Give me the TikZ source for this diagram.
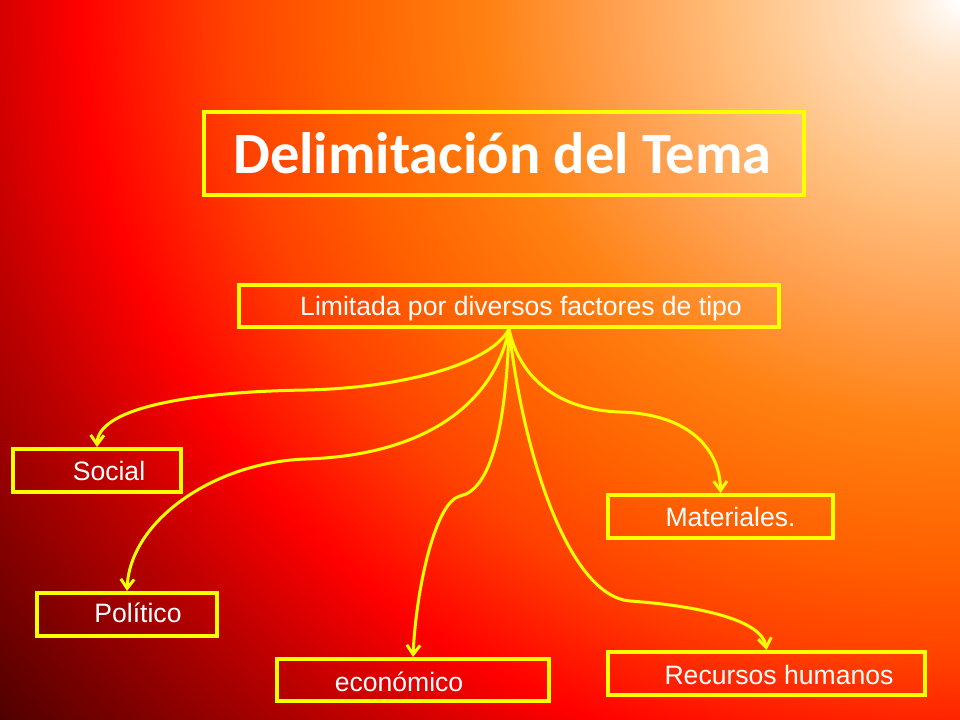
\documentclass[tikz,border=0pt]{standalone}
\usepackage{fontspec}
\setmainfont{Liberation Sans}
\newfontfamily\titlefont{Carlito}
\usetikzlibrary{arrows.meta}
\definecolor{amarillo}{HTML}{FFFF00}
\definecolor{fondoA}{HTML}{FFFFFF}
\definecolor{fondoB}{HTML}{FFE4C8}
\definecolor{fondoC}{HTML}{FFC080}
\definecolor{fondoD}{HTML}{FFA050}
\definecolor{fondoE}{HTML}{FF8010}
\definecolor{fondoF}{HTML}{FF6000}
\definecolor{fondoG}{HTML}{FF4000}
\definecolor{fondoH}{HTML}{FF0000}
\definecolor{fondoI}{HTML}{C00000}
\definecolor{fondoJ}{HTML}{900000}
\definecolor{fondoK}{HTML}{500000}
\pgfdeclareradialshading{fondo}{\pgfpointorigin}{color(0bp)=(fondoA); color(1.41bp)=(fondoB); color(4.38bp)=(fondoC); color(6.72bp)=(fondoD); color(9.38bp)=(fondoE); color(12.19bp)=(fondoF); color(14.38bp)=(fondoG); color(17.19bp)=(fondoH); color(19.53bp)=(fondoI); color(21.56bp)=(fondoJ); color(24.38bp)=(fondoK); color(50bp)=(fondoK)}
\begin{document}
\begin{tikzpicture}[x=0.75bp,y=-0.75bp,
	caja/.style={draw=amarillo,line width=3bp,inner sep=0pt},
	rotulo/.style={text=white,inner sep=0pt,font=\fontsize{20}{24}\selectfont,text height=14.3pt,text depth=0pt},
	enlace/.style={amarillo,line width=2.25bp,-{Straight Barb[length=7bp,width=10bp]}}]
	\useasboundingbox (0,0) rectangle (960,720);
	\begin{scope}
		\clip (0,0) rectangle (960,720);
		\shade[shading=fondo] (-320,-1152) rectangle (2240,1152);
	\end{scope}
	\node[caja,minimum width=450bp,minimum height=62.25bp] (tema) at (504,153.5) {};
	\node[caja,minimum width=405bp,minimum height=31.5bp] (lim) at (509,306) {};
	\node[caja,minimum width=126bp,minimum height=32.25bp] (soc) at (97,470.5) {};
	\node[caja,minimum width=135bp,minimum height=32.25bp] (pol) at (127,614.5) {};
	\node[caja,minimum width=204bp,minimum height=31.5bp] (eco) at (413,680) {};
	\node[caja,minimum width=168.75bp,minimum height=32.25bp] (mat) at (720.5,516.5) {};
	\node[caja,minimum width=237.75bp,minimum height=32.25bp] (rec) at (766.5,673.5) {};
	\node[text=white,inner sep=0pt,font=\titlefont\bfseries\fontsize{44}{52}\selectfont,text height=28.3pt,text depth=0pt] (tematxt) at (502.5,155) {Delimitación del Tema};
	\node[rotulo] (limtxt) at (521,306) {Limitada por diversos factores de tipo};
	\node[rotulo] (soctxt) at (109,471) {Social};
	\node[rotulo] (poltxt) at (138,613) {Político};
	\node[rotulo] (ecotxt) at (399,681.5) {económico};
	\node[rotulo] (mattxt) at (730.5,516.5) {Materiales.};
	\node[rotulo] (rectxt) at (779,674.5) {Recursos humanos};
	\draw[enlace] (lim.south) .. controls (490,365) and (400,388) .. (306,390) .. controls (180,392) and (98,410) .. (soc.north);
	\draw[enlace] (lim.south) .. controls (495,400) and (430,455) .. (306,459) .. controls (215,462) and (130,520) .. (pol.north);
	\draw[enlace] (lim.south) .. controls (506,430) and (490,490) .. (460,496) .. controls (435,502) and (416,590) .. (eco.north);
	\draw[enlace] (lim.south) .. controls (524,460) and (570,596) .. (630,601) .. controls (700,606) and (762,620) .. (rec.north);
	\draw[enlace] (lim.south) .. controls (520,380) and (560,410) .. (620,412) .. controls (690,414) and (720,450) .. (mat.north);
\end{tikzpicture}
\end{document}
